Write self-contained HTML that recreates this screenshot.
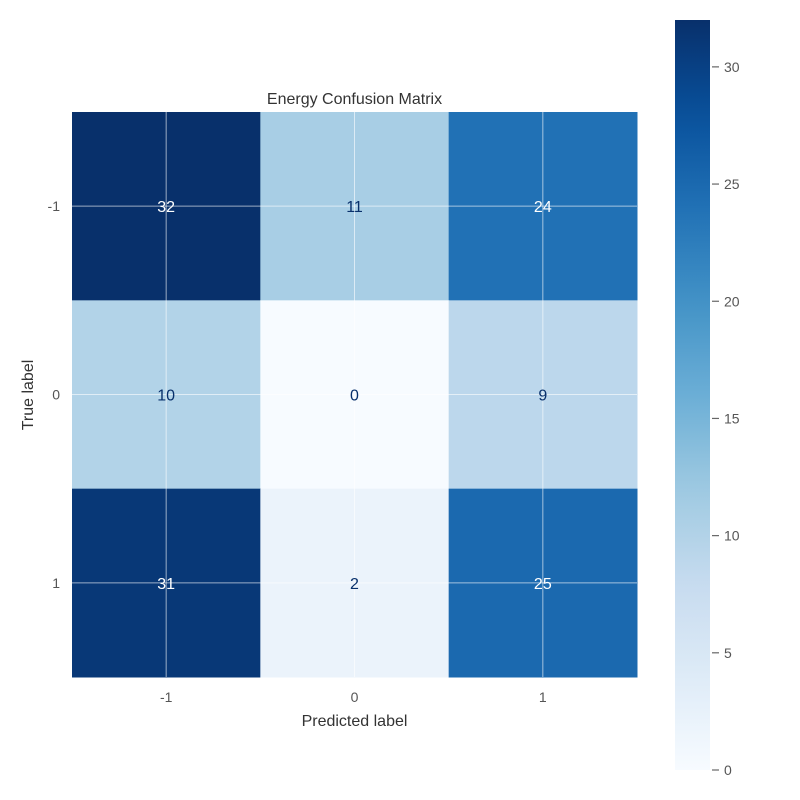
<!DOCTYPE html>
<html><head><meta charset="utf-8"><style>
body{margin:0;background:#fff;}
svg{display:block;font-family:"Liberation Sans",Arial,sans-serif;}
</style></head><body>
<svg id="c" width="800" height="800" xmlns="http://www.w3.org/2000/svg">
<defs><linearGradient id="g" x1="0" y1="1" x2="0" y2="0"></linearGradient></defs>
</svg>
<script>
const labels=["-1","0","1"];
const matrix=[[32,11,24],[10,0,9],[31,2,25]];
const cbTicks=[0,5,10,15,20,25,30];
const vmax=32;
const stops=["#f7fbff","#deebf7","#c6dbef","#9ecae1","#6baed6","#4292c6","#2171b5","#08519c","#08306b"];
function hex(h){return [1,3,5].map(i=>parseInt(h.substr(i,2),16));}
function cmap(t){t=Math.max(0,Math.min(1,t));const p=t*8,i=Math.min(7,Math.floor(p)),f=p-i;
 const a=hex(stops[i]),b=hex(stops[i+1]);return "rgb("+a.map((v,k)=>Math.round(v+(b[k]-v)*f)).join(",")+")";}
const NS="http://www.w3.org/2000/svg",svg=document.getElementById("c");
function mk(t,a,txt){const e=document.createElementNS(NS,t);for(const k in a)e.setAttribute(k,a[k]);if(txt!==undefined)e.textContent=txt;svg.appendChild(e);return e;}
const X0=72,Y0=112,S=(637-72)/3;
const cx=j=>X0+S*(j+0.5), cy=i=>Y0+S*(i+0.5);
matrix.forEach((row,i)=>row.forEach((v,j)=>{
 const r=mk("rect",{x:X0+S*j,y:Y0+S*i,width:S+0.5,height:S+0.5,fill:cmap(v/vmax)});
 
 
}));
// grid lines
labels.forEach((l,k)=>{
 const a=mk("line",{x1:cx(k),x2:cx(k),y1:Y0,y2:Y0+3*S,stroke:"#fff","stroke-opacity":0.6,"stroke-width":1});
 
 
 const b=mk("line",{y1:cy(k),y2:cy(k),x1:X0,x2:X0+3*S,stroke:"#fff","stroke-opacity":0.6,"stroke-width":1});
 
 
});
matrix.forEach((row,i)=>row.forEach((v,j)=>{
 const t=mk("text",{x:cx(j),y:cy(i)+6,"text-anchor":"middle","font-size":16,fill:v/vmax>0.5?"#fff":"#08306b"},v);
 
 
}));
labels.forEach((l,k)=>{
 const a=mk("text",{x:cx(k),y:702,"text-anchor":"middle","font-size":14,fill:"#555"},l);
 
 
 const b=mk("text",{x:60,y:cy(k)+5,"text-anchor":"end","font-size":14,fill:"#555"},l);
 
 
});
let e=mk("text",{x:354.5,y:726,"text-anchor":"middle","font-size":16,fill:"#333"},"Predicted label");

e=mk("text",{x:0,y:0,"text-anchor":"middle","font-size":16,fill:"#333",transform:"translate(33,395) rotate(-90)"},"True label");

e=mk("text",{x:354.5,y:104,"text-anchor":"middle","font-size":16,fill:"#333"},"Energy Confusion Matrix");

// colorbar
const g=document.getElementById("g");
for(let k=0;k<=20;k++){const s=document.createElementNS(NS,"stop");s.setAttribute("offset",k/20);s.setAttribute("stop-color",cmap(k/20));g.appendChild(s);}
const CB0=770,CB1=20,cbY=v=>CB0-(CB0-CB1)*v/vmax;
e=mk("rect",{x:675,y:CB1,width:35,height:CB0-CB1,fill:"url(#g)"});

cbTicks.forEach(v=>{
 const l=mk("line",{x1:712,x2:719,y1:cbY(v),y2:cbY(v),stroke:"#666","stroke-width":1.2});
 
 
 const t=mk("text",{x:724,y:cbY(v)+5,"font-size":14,fill:"#555"},v);
 
 
});
</script>
</body></html>
